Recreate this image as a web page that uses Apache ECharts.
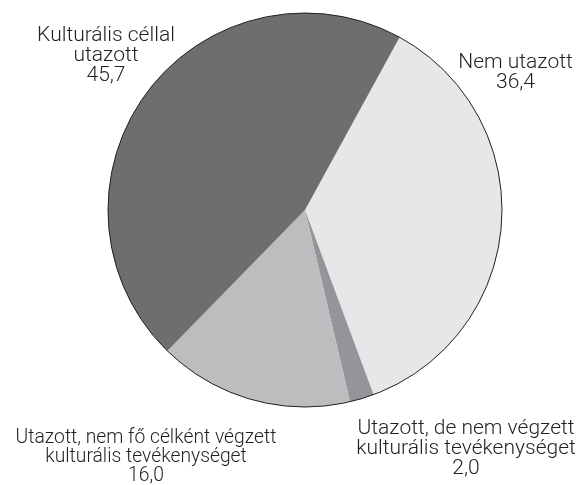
<!DOCTYPE html>
<html>
<head>
<meta charset="utf-8">
<script src="https://cdn.jsdelivr.net/npm/echarts@6/dist/echarts.min.js"></script>
<style>html,body{margin:0;padding:0;background:#fff}#c{width:584px;height:485px}</style>
</head>
<body>
<div id="c"></div>
<script>
var categories = ['Nem utazott', 'Utazott, de nem végzett\nkulturális tevékenységet', 'Utazott, nem fő célként végzett\nkulturális tevékenységet', 'Kulturális céllal\nutazott'];
var values = [36.4, 2.0, 16.0, 45.7];
var colors = ['#e6e7e8', '#939598', '#bcbdbf', '#6d6e70'];
var labelPos = [[515.5, 52.5], [466, 419], [146, 429], [106, 26]];
var labelSizes = [21, 21, 19.3, 21];
var labelLineHeights = [20, 20, 19, 20];

var chart = echarts.init(document.getElementById('c'), null, {renderer: 'canvas'});
var data = categories.map(function (n, i) {
  return {name: n, value: values[i], itemStyle: {color: colors[i]},
    label: {fontSize: labelSizes[i], lineHeight: labelLineHeights[i]}};
});
chart.setOption({
  animation: false,
  series: [{
    type: 'pie',
    center: [305, 210],
    radius: 197,
    startAngle: 61.3,
    clockwise: true,
    data: data,
    itemStyle: {borderWidth: 0},
    label: {
      show: true,
      position: 'outside',
      formatter: function (p) { return p.name + '\n' + p.value.toFixed(1).replace('.', ','); },
      fontFamily: 'Roboto',
      fontWeight: 300,
      fontSize: 21,
      lineHeight: 20,
      color: '#231f20',
      align: 'center',
      overflow: 'none',
      width: 400
    },
    labelLine: {show: false},
    labelLayout: function (params) {
      var p = labelPos[params.dataIndex];
      return {x: p[0], y: p[1], align: 'center', verticalAlign: 'top'};
    },
    emphasis: {disabled: true}
  }, {
    type: 'pie',
    center: [305, 210],
    radius: 197,
    silent: true,
    data: [{value: 1, name: 'outline'}],
    itemStyle: {color: 'rgba(0,0,0,0)', borderColor: '#231f20', borderWidth: 1},
    label: {show: false},
    labelLine: {show: false}
  }]
});
</script>
</body>
</html>
